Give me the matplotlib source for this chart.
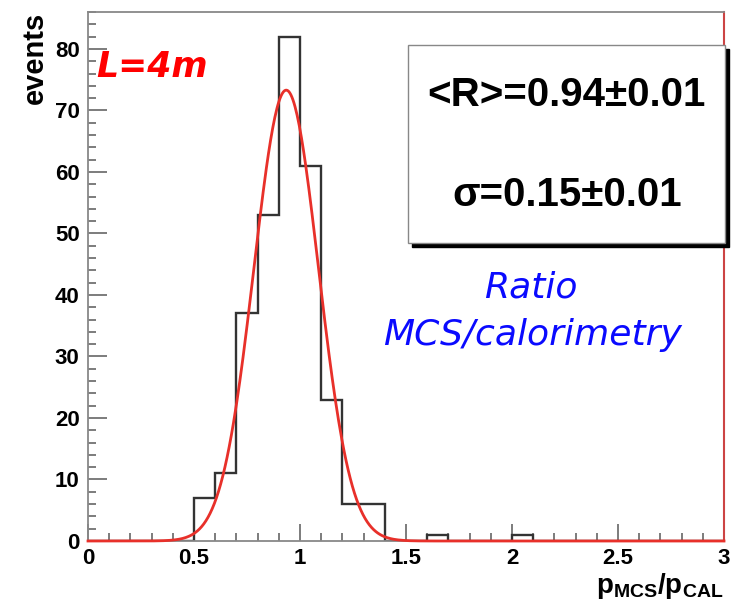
import numpy as np
import matplotlib
matplotlib.use("Agg")
import matplotlib.pyplot as plt
from matplotlib.patches import Rectangle
from matplotlib.ticker import MultipleLocator

plt.rcParams['font.family'] = ['Liberation Sans', 'DejaVu Sans']
plt.rcParams['mathtext.fontset'] = 'custom'
plt.rcParams['mathtext.rm'] = 'Liberation Sans'
plt.rcParams['mathtext.bf'] = 'Liberation Sans:bold'

# histogram: 30 bins of 0.1 between 0 and 3
bin_edges = [round(0.1 * i, 1) for i in range(31)]
counts = [0, 0, 0, 0, 0, 7, 11, 37, 53, 82,
          61, 23, 6, 6, 0, 0, 1, 0, 0, 0,
          1, 0, 0, 0, 0, 0, 0, 0, 0, 0]

# gaussian fit parameters
fit_amp = 73.3
fit_mean = 0.935
fit_sigma = 0.152

box_lines = ["<R>=0.94\u00b10.01", "\u03c3=0.15\u00b10.01"]

W, H = 742, 607
fig = plt.figure(figsize=(W / 100, H / 100), dpi=100)
ax = fig.add_axes([88 / W, 1 - 541 / H, 636 / W, 529 / H])

ax.stairs(counts, bin_edges, color='#333333', lw=1.7, zorder=2)

xf = np.linspace(0, 3, 600)
yf = fit_amp * np.exp(-0.5 * ((xf - fit_mean) / fit_sigma) ** 2)
ax.plot(xf, yf, color='#e8302a', lw=2.0, zorder=3, clip_on=False)

ax.set_xlim(0, 3)
ax.set_ylim(0, 86)
ax.xaxis.set_minor_locator(MultipleLocator(0.1))
ax.yaxis.set_major_locator(MultipleLocator(10))
ax.yaxis.set_minor_locator(MultipleLocator(2))
ax.set_xticks([0, 0.5, 1, 1.5, 2, 2.5, 3])
ax.set_xticklabels(['0', '0.5', '1', '1.5', '2', '2.5', '3'])
ax.tick_params(which='both', direction='in', top=False, right=False,
               color='#666666', width=1.2)
ax.tick_params(which='major', axis='y', length=14)
ax.tick_params(which='major', axis='x', length=12)
ax.tick_params(which='minor', length=6)
ax.tick_params(axis='y', labelsize=16, pad=6)
ax.tick_params(axis='x', labelsize=16, pad=5)
for lab in ax.get_xticklabels() + ax.get_yticklabels():
    lab.set_fontweight('bold')

for s in ['left', 'top', 'bottom']:
    ax.spines[s].set_color('#888888')
    ax.spines[s].set_linewidth(1.3)
ax.spines['right'].set_color('#cc4444')
ax.spines['right'].set_linewidth(1.5)

ax.set_ylabel('events', loc='top', fontsize=21, fontweight='bold')
ax.yaxis.set_label_coords(-0.062, 1.0)

# x axis title, right aligned under the axis end
fig.text(723 / W, 1 - 593 / H, r'$\mathbf{p_{MCS}/p_{CAL}}$',
         fontsize=20, ha='right', va='baseline')

# stats box with shadow
bx0, by0, bw, bh = 408, 45, 317, 198
fig.patches.append(Rectangle(((bx0 + 4) / W, 1 - (by0 + bh + 4) / H), bw / W, bh / H,
                             transform=fig.transFigure, facecolor='black',
                             edgecolor='black', zorder=5))
fig.patches.append(Rectangle((bx0 / W, 1 - (by0 + bh) / H), bw / W, bh / H,
                             transform=fig.transFigure, facecolor='white',
                             edgecolor='#888888', lw=1.0, zorder=6))
fig.text(566 / W, 1 - 95 / H, box_lines[0], fontsize=29, fontweight='bold',
         ha='center', va='center', zorder=7)
fig.text(567 / W, 1 - 195 / H, box_lines[1], fontsize=29, fontweight='bold',
         ha='center', va='center', zorder=7)

fig.text(152 / W, 1 - 67 / H, 'L=4m', color='#ff0000', fontsize=25,
         fontweight='bold', style='italic', family='DejaVu Sans',
         ha='center', va='center')
fig.text(531 / W, 1 - 298 / H, 'Ratio', color='#0a0aff', fontsize=26,
         style='italic', family='DejaVu Sans', ha='center', va='baseline')
fig.text(532 / W, 1 - 345 / H, 'MCS/calorimetry', color='#0a0aff', fontsize=26,
         style='italic', family='DejaVu Sans', ha='center', va='baseline')

fig.savefig('out.png', dpi=100)
